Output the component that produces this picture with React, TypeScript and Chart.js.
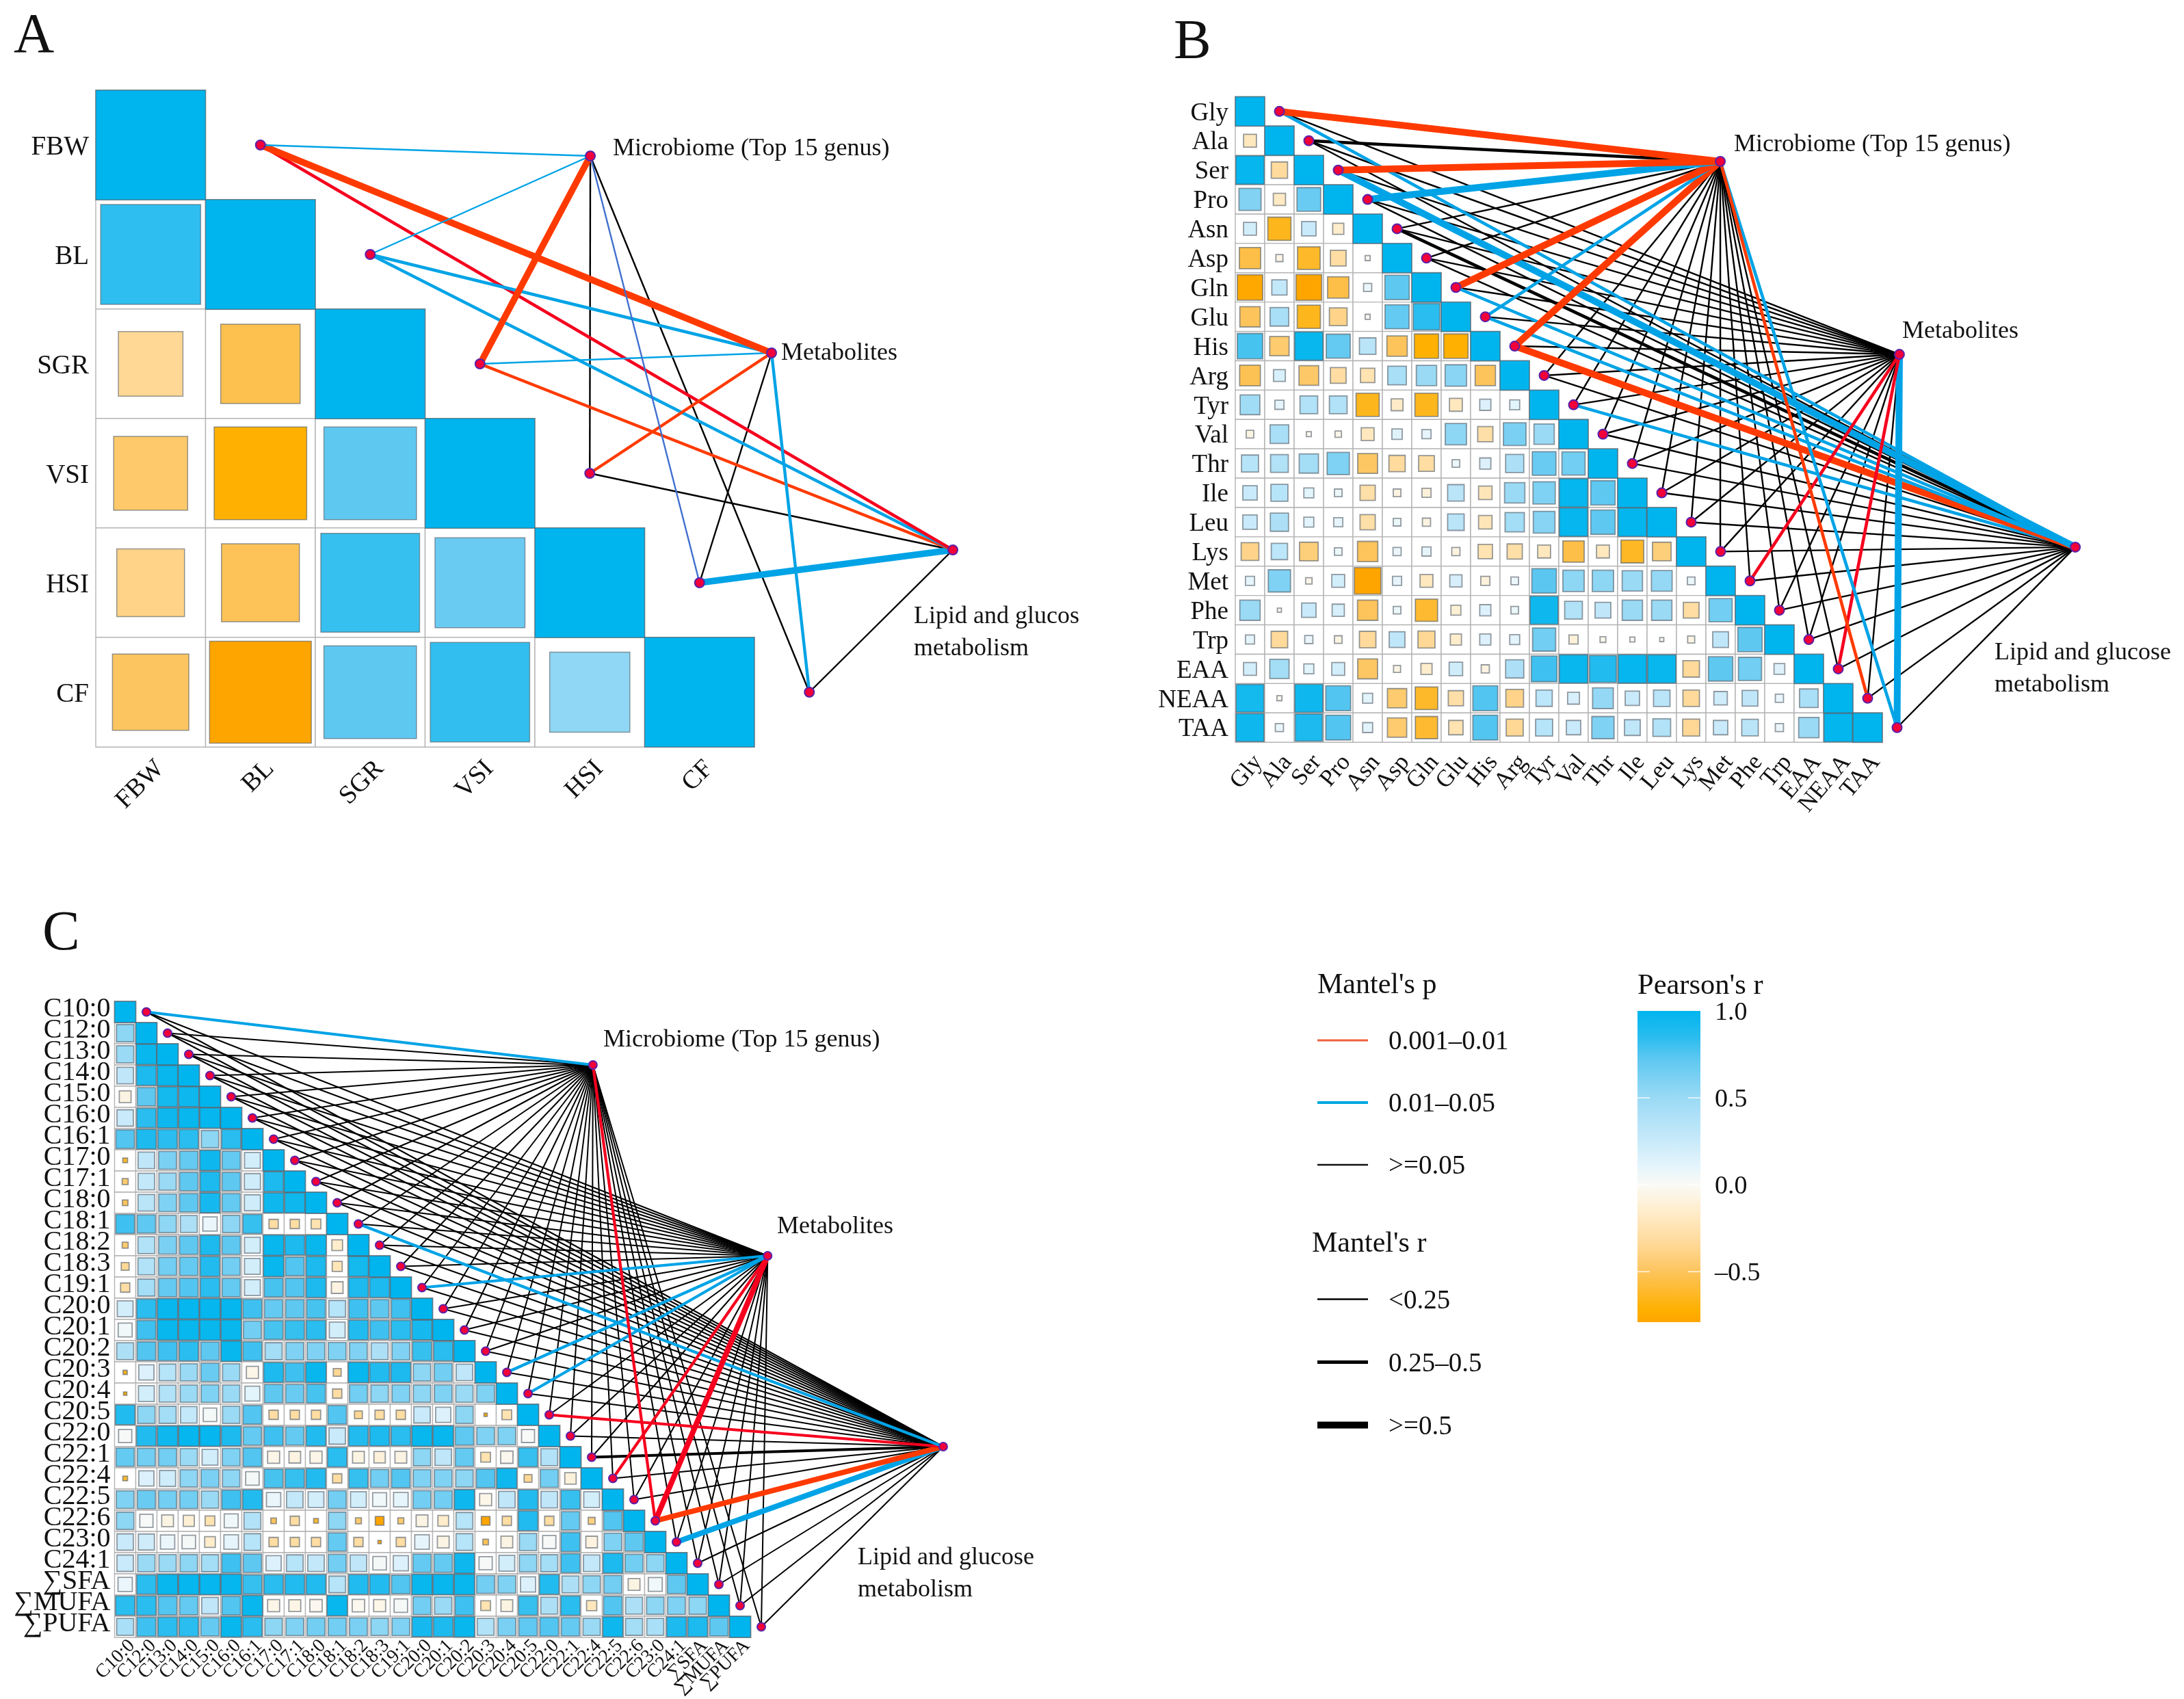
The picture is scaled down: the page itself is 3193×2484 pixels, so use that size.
import React, { useEffect, useRef } from "react";
import Chart from "chart.js/auto";

const SERIF = "'Liberation Serif', serif";

// ---------- Panel A data ----------
const labelsA = ["FBW", "BL", "SGR", "VSI", "HSI", "CF"];
const rowsA = [
  [],
  [0.84],
  [-0.35, -0.53],
  [-0.46, -0.72, 0.72],
  [-0.385, -0.51, 0.82, 0.68],
  [-0.49, -0.87, 0.72, 0.83, 0.54],
];
const linksAMicrobiome = ["b1", "b1", "r3", "k1", "n1", "k1"];
const linksAMetabolites = ["r3", "b2", "b1", "r2", "k1", "b2"];
const linksALipid = ["p2", "b2", "r2", "k1", "b3", "k1"];

// ---------- Panel B data ----------
const labelsB = ["Gly", "Ala", "Ser", "Pro", "Asn", "Asp", "Gln", "Glu", "His", "Arg", "Tyr", "Val", "Thr", "Ile", "Leu", "Lys", "Met", "Phe", "Trp", "EAA", "NEAA", "TAA"];
const rowsB = [
  [],
  [-0.2],
  [0.98, -0.32],
  [0.59, -0.18, 0.68],
  [0.2, -0.65, 0.25, -0.15],
  [-0.55, -0.06, -0.62, -0.3, -0.03],
  [-0.78, 0.28, -0.8, -0.55, 0.08, 0.72],
  [-0.5, 0.42, -0.65, -0.38, -0.03, 0.7, 0.85],
  [0.78, -0.45, 0.97, 0.7, 0.33, -0.5, -0.72, -0.72],
  [-0.52, 0.17, -0.47, -0.3, -0.25, 0.42, 0.5, 0.56, -0.5],
  [0.47, 0.1, 0.38, 0.38, -0.65, -0.17, -0.65, -0.2, 0.15, 0.12],
  [-0.07, 0.42, -0.03, -0.05, -0.2, 0.13, 0.1, 0.55, -0.28, 0.62, 0.5],
  [0.35, 0.38, 0.45, 0.6, -0.48, -0.32, -0.3, 0.07, 0.15, 0.4, 0.68, 0.65],
  [0.25, 0.35, 0.12, 0.07, -0.28, -0.07, -0.1, 0.33, -0.22, 0.5, 0.6, 0.98, 0.72],
  [0.25, 0.4, 0.12, 0.1, -0.28, 0.07, -0.08, 0.33, -0.22, 0.45, 0.57, 0.98, 0.72, 0.99],
  [-0.38, 0.32, -0.42, 0.07, -0.5, 0.08, 0.1, -0.08, -0.25, -0.28, -0.2, -0.55, -0.2, -0.63, -0.42],
  [0.1, 0.6, -0.05, 0.2, -0.85, 0.1, -0.2, 0.18, -0.1, 0.07, 0.73, 0.55, 0.55, 0.5, 0.52, 0.07],
  [0.5, -0.02, 0.25, 0.18, -0.5, 0.07, -0.6, -0.12, 0.15, 0.07, 0.95, 0.38, 0.3, 0.5, 0.5, -0.3, 0.65],
  [0.1, -0.33, 0.08, -0.07, -0.33, 0.3, -0.35, -0.15, 0.15, 0.12, 0.65, -0.1, -0.04, -0.03, -0.02, -0.06, 0.3, 0.72],
  [0.2, 0.45, 0.12, 0.2, -0.48, -0.06, -0.15, 0.22, -0.08, 0.4, 0.8, 0.97, 0.88, 0.98, 0.97, -0.33, 0.72, 0.65, 0.14],
  [0.93, -0.03, 0.95, 0.75, 0.12, -0.45, -0.62, -0.28, 0.75, -0.38, 0.32, 0.17, 0.52, 0.25, 0.33, -0.33, 0.22, 0.3, 0.08, 0.42],
  [0.95, 0.08, 0.9, 0.75, 0.12, -0.45, -0.6, -0.25, 0.75, -0.35, 0.35, 0.25, 0.6, 0.3, 0.38, -0.35, 0.25, 0.33, 0.08, 0.5, 0.99],
];
const linksBMicrobiome = ["r3", "k2", "r3", "b3", "k1", "k1", "r3", "b2", "r3", "k1", "k1", "k1", "k1", "k1", "k1", "k1", "k1", "k1", "k1", "k1", "r2", "b2"];
const linksBMetabolites = ["k1", "k1", "k1", "k1", "k1", "k1", "k1", "k1", "k1", "k1", "k1", "k1", "k1", "k1", "k1", "k1", "p2", "k1", "k1", "p2", "k1", "b3"];
const linksBLipid = ["b2", "k1", "b3", "k1", "k2", "k1", "b2", "b2", "r3", "k1", "b2", "k1", "k1", "k1", "k1", "k1", "k1", "k1", "k1", "k1", "k1", "k1"];

// ---------- Panel C data ----------
const labelsC = ["C10:0", "C12:0", "C13:0", "C14:0", "C15:0", "C16:0", "C16:1", "C17:0", "C17:1", "C18:0", "C18:1", "C18:2", "C18:3", "C19:1", "C20:0", "C20:1", "C20:2", "C20:3", "C20:4", "C20:5", "C22:0", "C22:1", "C22:4", "C22:5", "C22:6", "C23:0", "C24:1", "∑SFA", "∑MUFA", "∑PUFA"];
const rowsC = [
  [],
  [0.55],
  [0.5, 0.97],
  [0.3, 0.9, 0.97],
  [-0.07, 0.72, 0.93, 0.95],
  [0.25, 0.85, 0.95, 0.97, 0.98],
  [0.75, 0.9, 0.85, 0.85, 0.55, 0.85],
  [-0.6, 0.3, 0.62, 0.7, 0.95, 0.7, 0.2],
  [-0.45, 0.28, 0.5, 0.72, 0.9, 0.72, 0.22, 0.9],
  [-0.5, 0.33, 0.6, 0.72, 0.92, 0.7, 0.22, 0.95, 0.95],
  [0.8, 0.72, 0.55, 0.4, 0.08, 0.55, 0.82, -0.3, -0.3, -0.25],
  [-0.45, 0.38, 0.62, 0.72, 0.9, 0.72, 0.2, 0.97, 0.9, 0.97, -0.15],
  [-0.35, 0.38, 0.65, 0.7, 0.88, 0.65, 0.2, 0.97, 0.75, 0.9, -0.22, 0.93],
  [-0.3, 0.45, 0.7, 0.75, 0.85, 0.7, 0.2, 0.78, 0.75, 0.9, -0.08, 0.9, 0.9],
  [0.2, 0.85, 0.97, 0.98, 0.98, 0.98, 0.8, 0.7, 0.72, 0.78, 0.35, 0.8, 0.72, 0.8],
  [0.05, 0.8, 0.97, 0.97, 0.97, 0.97, 0.65, 0.78, 0.82, 0.85, 0.2, 0.88, 0.8, 0.85, 0.92],
  [0.4, 0.75, 0.8, 0.85, 0.72, 0.97, 0.8, 0.45, 0.6, 0.6, 0.6, 0.6, 0.4, 0.6, 0.82, 0.85],
  [-0.65, 0.15, 0.35, 0.5, 0.68, 0.5, -0.05, 0.9, 0.8, 0.97, -0.35, 0.97, 0.88, 0.9, 0.55, 0.65, 0.3],
  [-0.72, 0.2, 0.38, 0.5, 0.6, 0.5, 0.12, 0.72, 0.68, 0.78, -0.3, 0.65, 0.55, 0.6, 0.55, 0.6, 0.5, 0.6],
  [0.88, 0.55, 0.45, 0.28, 0.03, 0.5, 0.75, -0.3, -0.3, -0.3, 0.75, -0.35, -0.3, -0.3, 0.25, 0.15, 0.55, -0.72, -0.25],
  [0.02, 0.88, 0.95, 0.98, 0.98, 0.9, 0.7, 0.8, 0.7, 0.88, 0.25, 0.88, 0.9, 0.85, 0.97, 0.97, 0.72, 0.6, 0.6, 0.01],
  [0.7, 0.65, 0.65, 0.5, 0.2, 0.6, 0.75, -0.05, -0.08, -0.05, 0.85, -0.07, -0.1, -0.07, 0.55, 0.3, 0.7, -0.25, -0.03, 0.82, 0.38],
  [-0.6, 0.15, 0.22, 0.55, 0.62, 0.55, 0.03, 0.78, 0.82, 0.88, -0.3, 0.82, 0.65, 0.75, 0.6, 0.6, 0.55, 0.75, 0.95, -0.35, 0.65, -0.1],
  [0.6, 0.68, 0.65, 0.65, 0.5, 0.8, 0.88, 0.08, 0.28, 0.2, 0.65, 0.2, 0.05, 0.1, 0.65, 0.65, 0.95, -0.05, 0.3, 0.88, 0.3, 0.82, 0.2],
  [0.55, 0.02, -0.07, -0.12, -0.25, 0.05, 0.38, -0.5, -0.3, -0.6, 0.55, -0.45, -0.8, -0.45, -0.07, -0.15, 0.35, -0.8, -0.3, 0.88, -0.3, 0.7, -0.4, 0.75],
  [0.25, 0.22, 0.08, 0.03, -0.15, 0.1, 0.35, -0.3, -0.3, -0.3, 0.7, -0.3, -0.72, -0.3, 0.1, -0.07, 0.35, -0.5, -0.07, 0.5, 0.02, 0.8, -0.08, 0.6, 0.72],
  [0.25, 0.5, 0.5, 0.55, 0.45, 0.8, 0.72, 0.15, 0.35, 0.28, 0.65, 0.3, 0.03, 0.15, 0.7, 0.7, 0.95, 0.02, 0.2, 0.55, 0.45, 0.8, 0.28, 0.9, 0.65, 0.55],
  [0.08, 0.85, 0.97, 0.98, 0.98, 0.98, 0.82, 0.85, 0.88, 0.88, 0.35, 0.88, 0.88, 0.75, 0.97, 0.97, 0.97, 0.65, 0.6, 0.15, 0.88, 0.4, 0.55, 0.65, -0.07, 0.05, 0.72],
  [0.85, 0.85, 0.75, 0.7, 0.3, 0.75, 0.97, -0.05, -0.06, -0.03, 0.97, -0.02, -0.05, 0.03, 0.65, 0.5, 0.8, -0.25, -0.07, 0.82, 0.4, 0.85, -0.2, 0.75, 0.4, 0.55, 0.6, 0.55],
  [0.42, 0.8, 0.85, 0.85, 0.7, 0.97, 0.85, 0.55, 0.6, 0.65, 0.65, 0.62, 0.55, 0.6, 0.92, 0.9, 0.97, 0.38, 0.62, 0.72, 0.75, 0.7, 0.5, 0.95, 0.45, 0.42, 0.9, 0.9, 0.72],
];
const linksCMicrobiome = ["b2", "k1", "k1", "k1", "k1", "k1", "k1", "k1", "k1", "k1", "k1", "k1", "k1", "k1", "k1", "k1", "k1", "k1", "k1", "k1", "k1", "k1", "k1", "k1", "p2", "k1", "k1", "k1", "k1", "k1"];
const linksCMetabolites = ["k1", "k1", "k1", "k1", "k1", "k1", "k1", "k1", "k1", "k1", "k1", "k1", "k1", "b2", "k1", "k1", "k1", "b2", "b2", "k1", "k1", "k1", "p2", "k1", "p3", "k1", "k1", "k1", "k1", "k1"];
const linksCLipid = ["k1", "k1", "k1", "k1", "k1", "k1", "k1", "k1", "k1", "k1", "b2", "k1", "k1", "k1", "k1", "k1", "k1", "k1", "k1", "p2", "k1", "k2", "k1", "k1", "r3", "b3", "k1", "k1", "k1", "k1"];

// ---------- Legend data ----------
const mantelPLabels = ["0.001–0.01", "0.01–0.05", ">=0.05"];
const mantelRLabels = ["<0.25", "0.25–0.5", ">=0.5"];
const colorbarTicks = [1, 0.5, 0, -0.5];
const colorbarTickLabels = ["1.0", "0.5", "0.0", "–0.5"];

// ---------- Styles ----------
const COLOR_STOPS: [number, string][] = [
  [-0.8, "#FFA500"], [-0.72, "#FFB000"], [-0.5, "#FDC45C"], [-0.35, "#FFD895"], [-0.15, "#FFEDCC"],
  [0, "#FAFAF6"], [0.1, "#E6F5FC"], [0.25, "#C9EAFA"], [0.5, "#9ADAF5"], [0.72, "#5FC8F1"], [0.85, "#2ABDEF"], [1, "#00B5EE"],
];
const hexRgb = (h: string) => [1, 3, 5].map((i) => parseInt(h.slice(i, i + 2), 16));
function colorOf(r: number) {
  const s = COLOR_STOPS;
  if (r <= s[0][0]) return s[0][1];
  for (let i = 1; i < s.length; i++) {
    if (r <= s[i][0]) {
      const t = (r - s[i - 1][0]) / (s[i][0] - s[i - 1][0]);
      const a = hexRgb(s[i - 1][1]);
      const b = hexRgb(s[i][1]);
      return `rgb(${a.map((v, k) => Math.round(v + (b[k] - v) * t)).join(",")})`;
    }
  }
  return s[s.length - 1][1];
}
const sideAbs = (r: number) => Math.sqrt(Math.abs(r));
const SIDE_C: [number, number][] = [
  [-0.8, 0.42], [-0.72, 0.16], [-0.6, 0.23], [-0.45, 0.29], [-0.35, 0.38], [-0.3, 0.45], [-0.15, 0.52],
  [0, 0.62], [0.05, 0.68], [0.25, 0.8], [0.55, 0.85], [0.8, 0.92], [1, 1],
];
function sideC(r: number) {
  if (r <= SIDE_C[0][0]) return SIDE_C[0][1];
  for (let i = 1; i < SIDE_C.length; i++) {
    if (r <= SIDE_C[i][0]) {
      const t = (r - SIDE_C[i - 1][0]) / (SIDE_C[i][0] - SIDE_C[i - 1][0]);
      return SIDE_C[i - 1][1] + (SIDE_C[i][1] - SIDE_C[i - 1][1]) * t;
    }
  }
  return 1;
}
const LINK_COLORS: Record<string, string> = { r: "#FF3A00", p: "#F5001E", b: "#00A3E6", k: "#000000", n: "#3F6FCF" };

type Txt = { t: string; x: number; y: number; size: number };
const TEXT_DROP = 4;
const textPlugin = {
  id: "pageText",
  afterDatasetsDraw(chart: any, _a: any, opts: any) {
    const { ctx } = chart;
    ctx.save();
    ctx.fillStyle = "#111";
    ctx.textBaseline = "middle";
    ctx.textAlign = "left";
    (opts.items || []).forEach((it: Txt) => {
      ctx.font = `${it.size}px ${SERIF}`;
      ctx.fillText(it.t, it.x - opts.left, it.y - opts.top + TEXT_DROP);
    });
    ctx.restore();
  },
};

type Panel = {
  labels: string[]; rows: number[][]; links: string[][];
  left: number; top: number; width: number; height: number;
  gridLeft: number; gridTop: number; cell: number; cellH: number;
  hubs: [number, number][];
  side: (r: number) => number;
  widths: number[]; nodeR: number; sqBorder: number;
  yFont: number; xFont: number; xRot: number; xOffset: number; xPad: number; yPad: number; yOffset: number;
  texts: Txt[];
};

const panelA: Panel = {
  labels: labelsA, rows: rowsA, links: [linksAMicrobiome, linksAMetabolites, linksALipid],
  left: 0, top: 0, width: 1620, height: 1250,
  gridLeft: 140, gridTop: 132, cell: 160.5, cellH: 160,
  hubs: [[4.005, 0.1], [5.656, 1.9], [7.307, 3.7]],
  side: sideAbs, widths: [2.4, 4.4, 9.5], nodeR: 7, sqBorder: 1.5,
  yFont: 39, xFont: 38, xRot: 45, xOffset: 14, xPad: 10, yPad: 10, yOffset: 4,
  texts: [
    { t: "A", x: 20, y: 50, size: 82 },
    { t: "Microbiome (Top 15 genus)", x: 896, y: 214, size: 36 },
    { t: "Metabolites", x: 1142, y: 513, size: 36 },
    { t: "Lipid and glucos", x: 1336, y: 898, size: 36 },
    { t: "metabolism", x: 1336, y: 945, size: 36 },
  ],
};
const panelB: Panel = {
  labels: labelsB, rows: rowsB, links: [linksBMicrobiome, linksBMetabolites, linksBLipid],
  left: 1660, top: 0, width: 1533, height: 1250,
  gridLeft: 1806, gridTop: 141.4, cell: 43, cellH: 42.9,
  hubs: [[15.99, 1.705], [22.08, 8.28], [28.06, 14.85]],
  side: sideAbs, widths: [2.4, 4.6, 10], nodeR: 7, sqBorder: 1.8,
  yFont: 37, xFont: 35, xRot: 50, xOffset: 12, xPad: 10, yPad: 10, yOffset: 3,
  texts: [
    { t: "B", x: 1716, y: 59, size: 82 },
    { t: "Microbiome (Top 15 genus)", x: 2535, y: 208, size: 36 },
    { t: "Metabolites", x: 2781, y: 481, size: 36 },
    { t: "Lipid and glucose", x: 2916, y: 951, size: 36 },
    { t: "metabolism", x: 2916, y: 998, size: 36 },
  ],
};
const panelC: Panel = {
  labels: labelsC, rows: rowsC, links: [linksCMicrobiome, linksCMetabolites, linksCLipid],
  left: 0, top: 1280, width: 1620, height: 1204,
  gridLeft: 167.5, gridTop: 1464, cell: 31, cellH: 31,
  hubs: [[22.06, 2.5], [30.3, 11.5], [38.58, 20.5]],
  side: sideC, widths: [2, 4.2, 8], nodeR: 6, sqBorder: 1.8,
  yFont: 40, xFont: 28, xRot: 45, xOffset: 10, xPad: -4, yPad: 6, yOffset: -4,
  texts: [
    { t: "C", x: 62, y: 1362, size: 82 },
    { t: "Microbiome (Top 15 genus)", x: 882, y: 1517, size: 36 },
    { t: "Metabolites", x: 1136, y: 1790, size: 36 },
    { t: "Lipid and glucose", x: 1254, y: 2274, size: 36 },
    { t: "metabolism", x: 1254, y: 2321, size: 36 },
  ],
};

const noPadding = (s: any) => { s.paddingLeft = 0; s.paddingRight = 0; s.paddingTop = 0; s.paddingBottom = 0; };

function panelConfig(p: Panel) {
  const n = p.labels.length;
  const cells: any[] = [];
  p.labels.forEach((_, i) => {
    for (let j = 0; j < i; j++) cells.push({ x: j, y: i, r: p.rows[i][j] });
  });
  const diag = p.labels.map((_, i) => ({ x: i, y: i, r: 1 }));
  const bg = [...cells, ...diag];
  const datasets: any[] = [];
  datasets.push({
    label: "grid", data: bg, order: 6, clip: false, pointStyle: "rect", showLine: false,
    pointRadius: p.cell * Math.SQRT1_2, pointBackgroundColor: "#FFFFFF", pointBorderColor: "#B4B4B4", pointBorderWidth: 1.4,
  });
  datasets.push({
    label: "r", data: bg, order: 5, clip: false, pointStyle: "rect", showLine: false,
    pointRadius: (c: any) => (c.raw.y === c.raw.x ? p.cell : p.side(c.raw.r) * (p.cell - 1)) * Math.SQRT1_2,
    pointBackgroundColor: (c: any) => colorOf(c.raw.r),
    pointBorderColor: "rgba(85,95,105,0.62)", pointBorderWidth: p.sqBorder,
  });
  p.links.forEach((list, h) => {
    list.forEach((code, i) => {
      datasets.push({
        label: `${p.labels[i]}-${h}`,
        data: [{ x: i + 1, y: i }, { x: p.hubs[h][0], y: p.hubs[h][1] }],
        showLine: true, clip: false, pointRadius: 0,
        borderColor: LINK_COLORS[code[0]],
        borderWidth: p.widths[Number(code[1]) - 1],
        order: code[0] === "k" ? 3 : 2,
      });
    });
  });
  datasets.push({
    label: "nodes",
    data: [...p.labels.map((_, i) => ({ x: i + 1, y: i })), ...p.hubs.map(([x, y]) => ({ x, y }))],
    order: 0, clip: false, showLine: false, pointStyle: "circle",
    pointRadius: p.nodeR, pointBackgroundColor: "#F2003A", pointBorderColor: "#5A22A8", pointBorderWidth: 2,
  });
  const xMax = (p.width - (p.gridLeft - p.left)) / p.cell - 0.5;
  const indexTicks = (s: any) => { s.ticks = p.labels.map((_, i) => ({ value: i })); };
  return {
    type: "scatter",
    data: { datasets },
    plugins: [textPlugin],
    options: {
      animation: false, responsive: false, devicePixelRatio: 1, events: [],
      layout: { autoPadding: false, padding: { top: p.gridTop - p.top, left: 0, right: 0, bottom: 0 } },
      plugins: {
        legend: { display: false }, tooltip: { enabled: false }, title: { display: false },
        pageText: { items: p.texts, left: p.left, top: p.top },
      },
      scales: {
        x: {
          type: "linear", bounds: "data", min: -0.5, max: xMax, position: "bottom",
          grid: { display: false, drawTicks: false }, border: { display: false },
          afterBuildTicks: indexTicks,
          afterFit: (s: any) => { s.height = p.top + p.height - (p.gridTop + n * p.cellH); noPadding(s); },
          ticks: {
            autoSkip: false, minRotation: p.xRot, maxRotation: p.xRot, padding: p.xPad, labelOffset: p.xOffset,
            color: "#111", font: { family: SERIF, size: p.xFont },
            callback: (v: any) => p.labels[v],
          },
        },
        y: {
          type: "linear", bounds: "data", reverse: true, min: -0.5, max: n - 0.5, position: "left",
          grid: { display: false, drawTicks: false }, border: { display: false },
          afterBuildTicks: indexTicks,
          afterFit: (s: any) => { s.width = p.gridLeft - p.left; noPadding(s); },
          ticks: {
            autoSkip: false, padding: p.yPad, labelOffset: p.yOffset, color: "#111", font: { family: SERIF, size: p.yFont },
            callback: (v: any) => p.labels[v],
          },
        },
      },
    },
  };
}

// ---------- Legend charts ----------
const LEG = { left: 1900, top: 1400, width: 400, height: 720 };
const legendRows = { pTitle: 0.08, rTitle: 4.23, p: [1, 2, 3], r: [5.16, 6.17, 7.18] };
function legendConfig() {
  const pStyles = [["#F0603C", 3], ["#00A9E0", 4], ["#111111", 2.5]];
  const rStyles = [2.5, 5, 10];
  const datasets: any[] = [];
  legendRows.p.forEach((y, i) => datasets.push({
    label: mantelPLabels[i], data: [{ x: 0, y }, { x: 1, y }], showLine: true, pointRadius: 0,
    borderColor: pStyles[i][0], borderWidth: pStyles[i][1],
  }));
  legendRows.r.forEach((y, i) => datasets.push({
    label: mantelRLabels[i], data: [{ x: 0, y }, { x: 1, y }], showLine: true, pointRadius: 0,
    borderColor: "#000", borderWidth: rStyles[i],
  }));
  const rowPx = (r: number) => 1430 + 91 * r;
  const items: Txt[] = [
    { t: "Mantel's p", x: 1926, y: rowPx(legendRows.pTitle), size: 42 },
    { t: "Mantel's r", x: 1918, y: rowPx(legendRows.rTitle), size: 42 },
    ...mantelPLabels.map((t, i) => ({ t, x: 2030, y: rowPx(legendRows.p[i]) - 1, size: 39 })),
    ...mantelRLabels.map((t, i) => ({ t, x: 2030, y: rowPx(legendRows.r[i]) - 1, size: 39 })),
  ];
  return {
    type: "scatter", data: { datasets }, plugins: [textPlugin],
    options: {
      animation: false, responsive: false, devicePixelRatio: 1, events: [],
      layout: { autoPadding: false, padding: { left: 26, right: 300, top: 30, bottom: 0 } },
      plugins: { legend: { display: false }, tooltip: { enabled: false }, pageText: { items, left: LEG.left, top: LEG.top } },
      scales: {
        x: { type: "linear", bounds: "data", min: 0, max: 1, display: false },
        y: { type: "linear", bounds: "data", reverse: true, min: 0, max: 690 / 91, display: false },
      },
    },
  };
}

const BAR = { left: 2300, top: 1400, width: 330, height: 600 };
const barMarks = {
  id: "barMarks",
  afterDatasetsDraw(chart: any) {
    const { ctx, chartArea: a, scales } = chart;
    ctx.save();
    ctx.strokeStyle = "rgba(255,255,255,0.85)";
    ctx.lineWidth = 1.5;
    colorbarTicks.slice(1).forEach((v) => {
      const y = scales.y.getPixelForValue(v);
      [[a.left, a.left + 18], [a.right - 18, a.right]].forEach(([p, q]) => {
        ctx.beginPath(); ctx.moveTo(p, y); ctx.lineTo(q, y); ctx.stroke();
      });
    });
    ctx.restore();
  },
};
function barConfig() {
  const rMin = -0.79;
  return {
    type: "bar",
    data: {
      labels: ["Pearson's r"],
      datasets: [{
        data: [[rMin, 1]], barPercentage: 1, categoryPercentage: 1,
        backgroundColor: (c: any) => {
          const s = c.chart.scales.y;
          const top = s ? s.getPixelForValue(1) : NaN;
          const bottom = s ? s.getPixelForValue(rMin) : NaN;
          if (!Number.isFinite(top) || !Number.isFinite(bottom)) return "#00B5EE";
          const g = c.chart.ctx.createLinearGradient(0, top, 0, bottom);
          COLOR_STOPS.forEach(([r, col]) => {
            const t = (1 - r) / (1 - rMin);
            g.addColorStop(Math.min(1, Math.max(0, t)), col);
          });
          return g;
        },
      }],
    },
    plugins: [barMarks, textPlugin],
    options: {
      animation: false, responsive: false, devicePixelRatio: 1, events: [],
      layout: { autoPadding: false, padding: { left: 94, right: 0, top: 78, bottom: 67 } },
      plugins: {
        legend: { display: false }, tooltip: { enabled: false },
        pageText: { items: [{ t: "Pearson's r", x: 2394, y: 1438, size: 42.5 }], left: BAR.left, top: BAR.top },
      },
      scales: {
        x: { display: false },
        y: {
          position: "right", bounds: "data", min: rMin, max: 1,
          grid: { display: false, drawTicks: false }, border: { display: false },
          afterBuildTicks: (s: any) => { s.ticks = colorbarTicks.map((value) => ({ value })); },
          afterFit: (s: any) => { s.width = 144; noPadding(s); },
          ticks: {
            padding: 21, labelOffset: 3, color: "#111", font: { family: SERIF, size: 38 },
            callback: (v: any) => colorbarTickLabels[colorbarTicks.indexOf(v)],
          },
        },
      },
    },
  };
}

function ChartCanvas({ make, box }: { make: () => any; box: { left: number; top: number; width: number; height: number } }) {
  const ref = useRef<HTMLCanvasElement | null>(null);
  useEffect(() => {
    const chart = new Chart(ref.current as any, make());
    return () => chart.destroy();
  }, []);
  return (
    <canvas
      ref={ref}
      width={box.width}
      height={box.height}
      style={{ position: "absolute", left: box.left, top: box.top, width: box.width, height: box.height }}
    />
  );
}

export default function App() {
  return (
    <div style={{ position: "absolute", left: 0, top: 0, width: 3193, height: 2484, background: "#fff", overflow: "hidden" }}>
      <ChartCanvas make={() => panelConfig(panelA)} box={panelA} />
      <ChartCanvas make={() => panelConfig(panelB)} box={panelB} />
      <ChartCanvas make={() => panelConfig(panelC)} box={panelC} />
      <ChartCanvas make={legendConfig} box={LEG} />
      <ChartCanvas make={barConfig} box={BAR} />
    </div>
  );
}
